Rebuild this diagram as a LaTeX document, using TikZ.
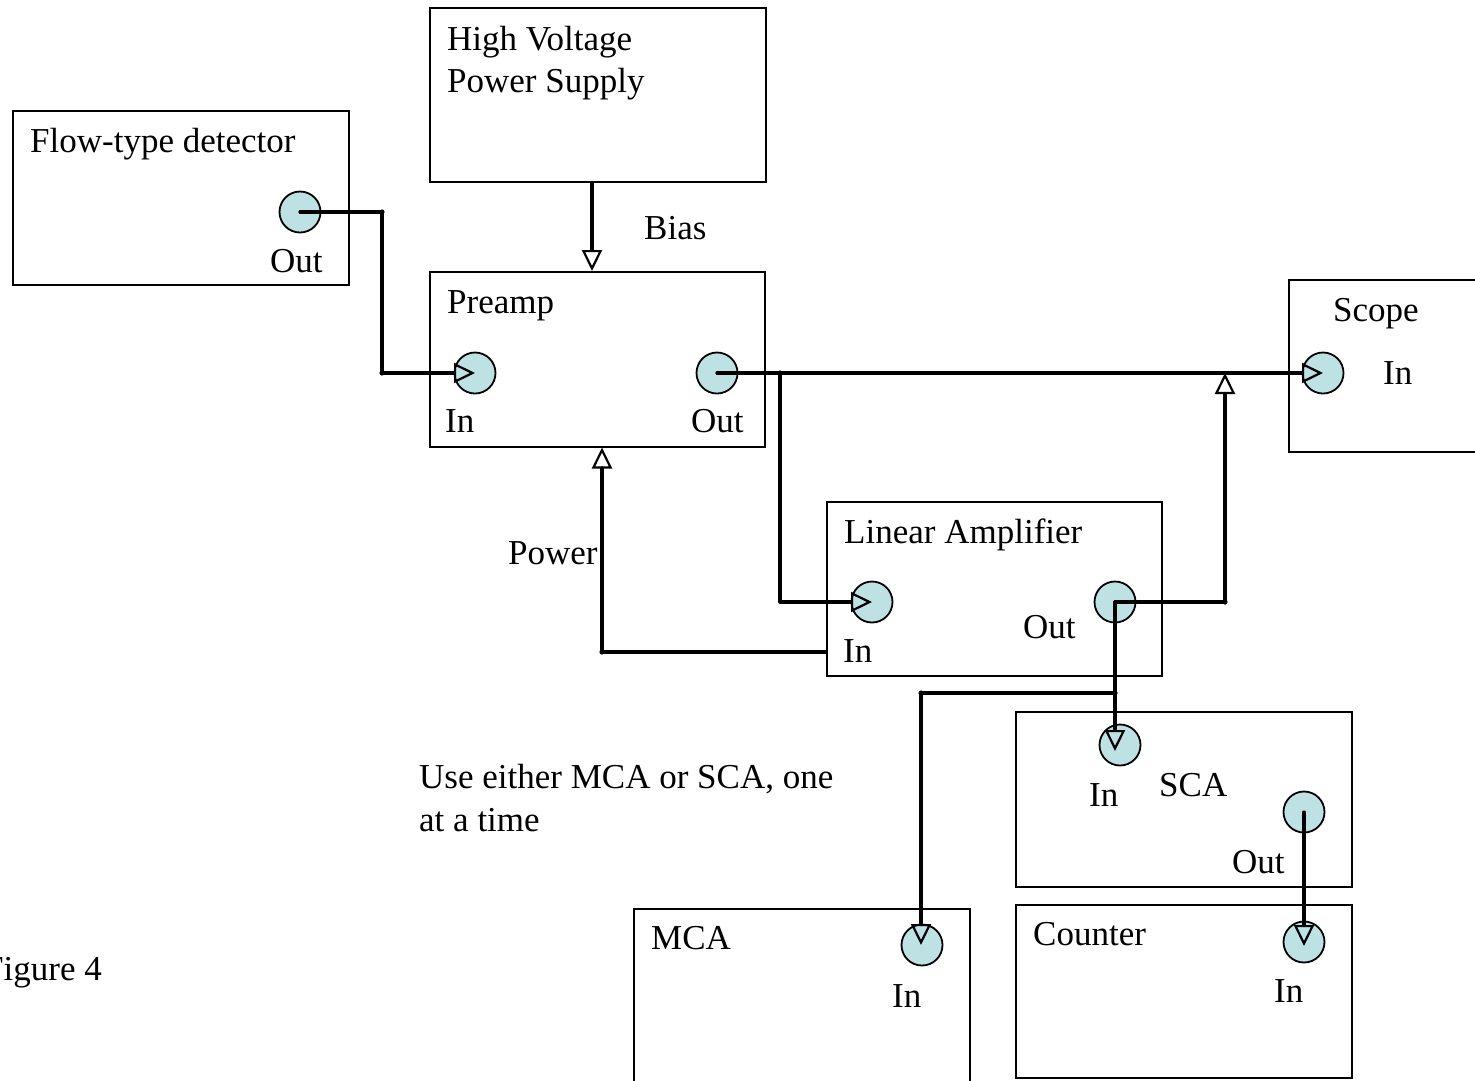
\documentclass[tikz,border=0pt]{standalone}
\usepackage{fontspec}
\setmainfont{Liberation Serif}
\usetikzlibrary{arrows.meta}
\definecolor{portc}{RGB}{190,225,228}
\tikzset{
  box/.style={draw, line width=1.5pt, inner sep=0pt, anchor=north west},
  port/.style={circle, draw, line width=1.8pt, fill=portc, minimum size=41pt, inner sep=0pt},
  conn/.style={line width=3.2pt, line join=round, line cap=round, -{Triangle[open, length=21pt, width=20pt, line width=2.2pt]}},
  lbl/.style={anchor=base west, inner sep=0pt, font=\fontsize{35}{43}\selectfont}
}
\begin{document}
\begin{tikzpicture}[x=1pt, y=-1pt]
\useasboundingbox (0,0) rectangle (1475,1080);
% boxes
\node[box, minimum width=336pt, minimum height=174pt] (det) at (12,110) {};
\node[box, minimum width=336pt, minimum height=174pt] (hv) at (429,7) {};
\node[box, minimum width=335pt, minimum height=175pt] (pre) at (429,271) {};
\node[box, minimum width=200pt, minimum height=172pt] (scope) at (1288,279) {};
\node[box, minimum width=335pt, minimum height=174pt] (lin) at (826,501) {};
\node[box, minimum width=336pt, minimum height=175pt] (sca) at (1015,711) {};
\node[box, minimum width=336pt, minimum height=185pt] (mca) at (633,908) {};
\node[box, minimum width=336pt, minimum height=173pt] (cnt) at (1015,904) {};
% ports
\node[port] (detOut) at (300,212) {};
\node[port] (preIn) at (475,373) {};
\node[port] (preOut) at (717,373) {};
\node[port] (scIn) at (1323,373) {};
\node[port] (linIn) at (872,602) {};
\node[port] (linOut) at (1115,602) {};
\node[port] (scaIn) at (1120,745) {};
\node[port] (scaOut) at (1304,812) {};
\node[port] (mcaIn) at (922,945) {};
\node[port] (cntIn) at (1304,942) {};
% junction coordinates
\coordinate (j1) at (382,212);
\coordinate (b1) at (780,373);
\coordinate (s1) at (1225,373);
\coordinate (p1) at (602,652);
\coordinate (biasx) at (592,0);
\coordinate (m1) at (1115,693);
\coordinate (m2) at (921,693);
\coordinate (sd) at (1115,751);
% connectors
\draw[conn] (hv.south -| biasx) -- (pre.north -| biasx);
\draw[conn] (detOut.center) -- (j1) |- (preIn.center);
\draw[conn] (preOut.center) -- (scIn.center);
\draw[conn] (b1) |- (linIn.center);
\draw[conn] (linOut.center) -| (s1);
\draw[conn] (lin.west |- p1) -- (p1) -- (pre.south -| p1);
\draw[conn] (linOut.center) -- (sd);
\draw[conn] (m1) -- (m2) -- (m2 |- mcaIn.center);
\draw[conn] (scaOut.center) -- ([yshift=-4pt]cntIn.center);
% bend dots
\foreach \c in {j1,b1,m1,m2,p1} \fill (\c) circle (2.6pt);
\fill (382,373) circle (2.6pt);
\fill (1225,602) circle (2.6pt);
% labels
\node[lbl] (t1) at (30,152) {Flow-type detector};
\node[lbl] (t2) at (270,272) {Out};
\node[lbl] (t3) at (447,50) {High Voltage};
\node[lbl] (t4) at (447,92) {Power Supply};
\node[lbl] (t5) at (644,239) {Bias};
\node[lbl] (t6) at (447,313) {Preamp};
\node[lbl] (t7) at (445,432) {In};
\node[lbl] (t8) at (691,432) {Out};
\node[lbl] (t9) at (1333,321) {Scope};
\node[lbl] (t10) at (1383,384) {In};
\node[lbl] (t11) at (844,543) {Linear Amplifier};
\node[lbl] (t12) at (508,564) {Power};
\node[lbl] (t13) at (843,662) {In};
\node[lbl] (t14) at (1023,638) {Out};
\node[lbl] (t15) at (419,788) {Use either MCA or SCA, one};
\node[lbl] (t16) at (419,831) {at a time};
\node[lbl] (t17) at (1089,806) {In};
\node[lbl] (t18) at (1159,796) {SCA};
\node[lbl] (t19) at (1232,873) {Out};
\node[lbl] (t20) at (651,949) {MCA};
\node[lbl] (t21) at (892,1007) {In};
\node[lbl] (t22) at (1033,945) {Counter};
\node[lbl] (t23) at (1274,1002) {In};
\node[lbl] (t24) at (-16,980) {Figure 4};
\end{tikzpicture}
\end{document}
